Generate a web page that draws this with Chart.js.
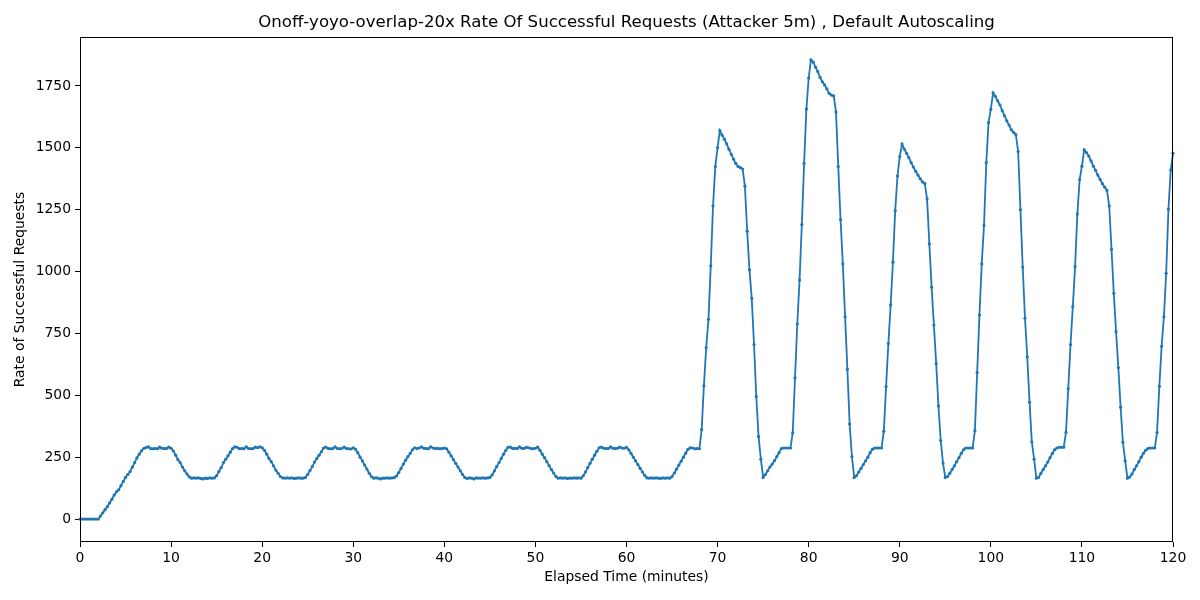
<!DOCTYPE html>
<html>
<head>
<meta charset="utf-8">
<script src="https://cdn.jsdelivr.net/npm/chart.js@4.4.1/dist/chart.umd.min.js"></script>
<style>
  html, body { margin: 0; padding: 0; background: #fff; }
  #wrap { width: 1200px; height: 600px; }
</style>
</head>
<body>
<div id="wrap"><canvas id="myChart" width="1200" height="600"></canvas></div>
<script>
// samples every 15 s (0.25 min), one array per 10 minutes
var rate00 = [0,0,0,0,0,0,0,0,0,12,25,38,50,65,80,97,110,118,135,152,168,180,192,210,228,247,262,276,285,289,292,285,284,285,284,291,286,285,285,291];
var rate10 = [286,275,258,240,228,210,195,182,170,165,166,165,166,164,162,165,164,166,165,166,175,192,208,228,242,255,270,285,292,290,284,285,284,292,285,284,285,291,288,292];
var rate20 = [288,278,262,245,232,215,198,185,172,166,165,166,165,166,164,165,166,165,165,168,180,196,212,230,245,258,272,287,291,285,284,285,292,285,284,286,291,285,284,283];
var rate30 = [288,282,268,250,235,218,202,185,172,165,166,165,162,165,165,166,165,166,167,174,188,205,222,238,252,265,280,288,285,287,292,286,285,284,292,287,285,286,284,285];
var rate40 = [287,284,270,255,240,225,210,195,180,168,164,166,165,162,166,165,165,166,165,166,168,178,195,212,228,245,262,278,290,291,285,286,285,292,286,285,290,288,285,284];
var rate50 = [286,291,278,262,248,232,216,200,186,172,165,166,165,166,164,165,165,166,165,166,165,175,190,208,225,242,258,274,288,291,286,285,285,292,286,285,286,291,287,286];
var rate60 = [290,280,265,250,235,220,205,190,176,166,165,166,165,166,165,164,166,165,166,165,172,186,202,218,234,250,266,282,288,287,284,285,284,361,539,693,807,1023,1265,1424];
var rate70 = [1501,1570,1551,1535,1516,1494,1474,1454,1437,1424,1420,1414,1345,1163,1007,892,705,495,333,242,168,180,195,210,222,236,252,268,285,287,287,287,287,348,571,788,966,1190,1437,1657];
var rate80 = [1782,1855,1846,1826,1808,1785,1767,1754,1738,1720,1713,1710,1645,1424,1210,1031,817,605,384,252,168,175,190,205,220,235,250,268,282,287,287,287,287,355,535,709,865,1038,1246,1386];
var rate90 = [1464,1515,1495,1478,1460,1440,1422,1405,1390,1375,1362,1356,1294,1111,937,784,628,457,317,226,168,172,185,200,215,232,248,265,280,287,287,287,287,357,592,824,1031,1186,1440,1602];
var rate100 = [1656,1722,1708,1690,1673,1650,1630,1609,1592,1573,1562,1553,1485,1250,1018,811,655,472,312,242,165,168,185,200,215,230,248,265,280,287,290,290,290,350,527,705,858,1020,1233,1372];
var rate110 = [1426,1492,1481,1467,1447,1426,1409,1390,1372,1355,1341,1328,1265,1090,912,757,612,452,310,235,165,170,182,200,215,232,250,265,278,285,287,287,287,350,536,698,817,993,1252,1410];
var rate120 = [1478];

var sampleStep = 0.25;
var xTicks = [0,10,20,30,40,50,60,70,80,90,100,110,120];
var yTicks = [0,250,500,750,1000,1250,1500,1750];
var chartTitle = 'Onoff-yoyo-overlap-20x Rate Of Successful Requests (Attacker 5m) , Default Autoscaling';

var rate = [].concat(rate00, rate10, rate20, rate30, rate40, rate50, rate60,
                     rate70, rate80, rate90, rate100, rate110, rate120);

var points = rate.map(function (v, i) {
    return { x: i * sampleStep, y: v };
});

Chart.defaults.font.family = "'DejaVu Sans', sans-serif";
Chart.defaults.color = '#000';

// black frame around plot area + title centred over the axes (matplotlib look)
var frame = {
    id: 'frame',
    afterDraw: function (chart) {
        var a = chart.chartArea, c = chart.ctx;
        c.save();
        c.strokeStyle = '#000';
        c.lineWidth = 1;
        c.strokeRect(a.left + 0.5, a.top + 0.5, a.right - a.left - 1, a.bottom - a.top - 1);
        c.fillStyle = '#000';
        c.font = "16.6px 'DejaVu Sans', sans-serif";
        c.textAlign = 'center';
        c.textBaseline = 'middle';
        c.fillText(chartTitle, (a.left + a.right) / 2, 23);
        c.restore();
    }
};

var ctx = document.getElementById('myChart').getContext('2d');

new Chart(ctx, {
    type: 'line',
    data: {
        datasets: [{
            label: 'rate',
            data: points,
            borderColor: '#1f77b4',
            backgroundColor: '#1f77b4',
            borderWidth: 1.8,
            pointRadius: 1.6,
            pointBorderWidth: 0,
            pointBackgroundColor: '#1f77b4',
            tension: 0,
            clip: false
        }]
    },
    options: {
        responsive: false,
        animation: false,
        devicePixelRatio: 1,
        layout: { padding: { left: 0, right: 27, top: 37, bottom: 0 } },
        plugins: {
            legend: { display: false },
            tooltip: { enabled: false },
            title: { display: false }
        },
        scales: {
            x: {
                type: 'linear',
                min: 0,
                max: 120,
                afterBuildTicks: function (s) {
                    s.ticks = xTicks.map(function (v) { return { value: v }; });
                },
                afterFit: function (s) { s.height = 58; },
                grid: { display: true, drawOnChartArea: false, drawTicks: true, tickLength: 5, color: '#000' },
                border: { display: false },
                ticks: {
                    font: { size: 13.9 }, padding: 3, maxRotation: 0,
                    callback: function (v) { return String(v); }
                },
                title: {
                    display: true,
                    text: 'Elapsed Time (minutes)',
                    font: { size: 13.9 },
                    padding: { top: 0, bottom: 14 }
                }
            },
            y: {
                type: 'linear',
                min: -92.75,
                max: 1947.75,
                afterBuildTicks: function (s) {
                    s.ticks = yTicks.map(function (v) { return { value: v }; });
                },
                afterFit: function (s) { s.width = 80; },
                grid: { display: true, drawOnChartArea: false, drawTicks: true, tickLength: 5, color: '#000' },
                border: { display: false },
                ticks: {
                    font: { size: 13.9 }, padding: 4,
                    callback: function (v) { return String(v); }
                },
                title: {
                    display: true,
                    text: 'Rate of Successful Requests',
                    font: { size: 13.9 },
                    padding: { top: 12, bottom: 0 }
                }
            }
        }
    },
    plugins: [frame]
});
</script>
</body>
</html>
